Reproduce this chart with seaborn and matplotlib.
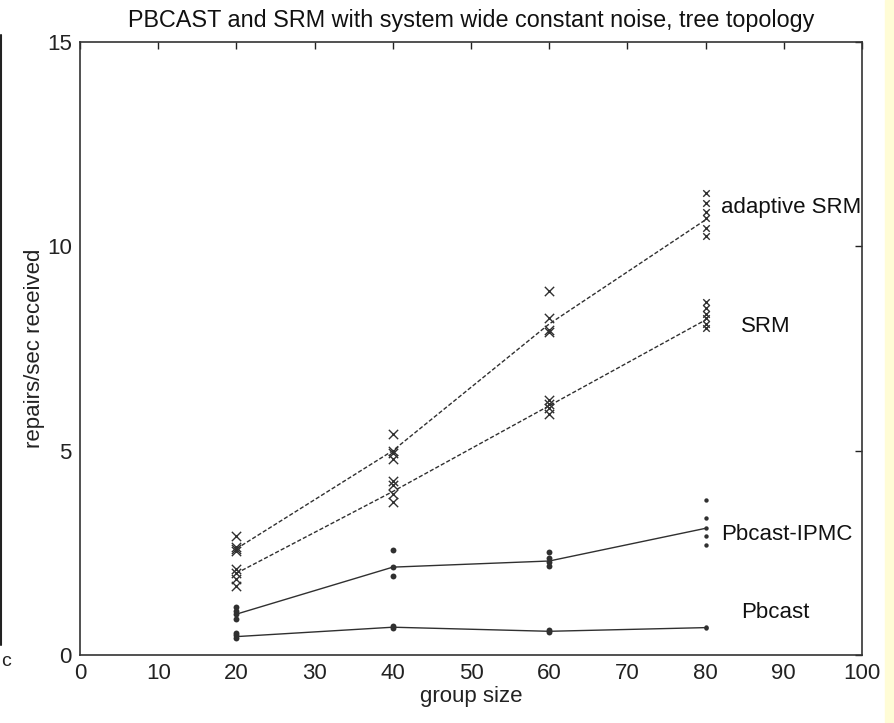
import pandas as pd
import matplotlib
matplotlib.use('Agg')
import matplotlib.pyplot as plt
import seaborn as sns

# group sizes on the x axis
groups = [20, 40, 60, 80]

# individual runs (one list per group size)
adaptive_srm_runs = [[2.9, 2.65, 2.6, 2.55],
                     [5.4, 5.0, 4.95, 4.8],
                     [8.9, 8.25, 7.95, 7.9],
                     [11.3, 11.05, 10.85, 10.7, 10.45, 10.25]]
srm_runs = [[2.1, 2.0, 1.85, 1.7],
            [4.25, 4.15, 3.95, 3.75],
            [6.25, 6.15, 6.05, 5.9],
            [8.65, 8.5, 8.35, 8.25, 8.1, 8.0]]
ipmc_runs = [[1.17, 1.08, 1.0, 0.88],
             [2.57, 2.15, 1.93],
             [2.52, 2.38, 2.27, 2.18],
             [3.8, 3.35, 3.1, 2.9, 2.7]]
pbcast_runs = [[0.55, 0.48, 0.42],
               [0.72, 0.67],
               [0.62, 0.57],
               [0.68, 0.66]]

# averaged curves
adaptive_srm_line = [2.6, 5.0, 8.1, 10.65]
srm_line = [2.0, 4.0, 6.1, 8.2]
ipmc_line = [1.0, 2.15, 2.3, 3.1]
pbcast_line = [0.45, 0.68, 0.58, 0.67]

series_names = ['adaptive SRM', 'SRM', 'Pbcast-IPMC', 'Pbcast']


def to_long(name, runs):
    rows = []
    for g, vals in zip(groups, runs):
        for v in vals:
            rows.append({'series': name, 'group': g, 'value': v})
    return rows


pts = pd.DataFrame(to_long('adaptive SRM', adaptive_srm_runs) + to_long('SRM', srm_runs)
                   + to_long('Pbcast-IPMC', ipmc_runs) + to_long('Pbcast', pbcast_runs))
lines = pd.DataFrame({'group': groups * 4,
                      'value': adaptive_srm_line + srm_line + ipmc_line + pbcast_line,
                      'series': [s for s in series_names for _ in groups]})

sns.set_style('white')
plt.rcParams['font.family'] = ['Liberation Sans', 'DejaVu Sans']

fig = plt.figure(figsize=(8.95, 7.23), dpi=100)
ax = fig.add_axes([80 / 895, 1 - 655 / 723, 782 / 895, 613 / 723])

ink = '#303030'
sns.lineplot(data=lines, x='group', y='value', hue='series', style='series',
             palette={s: ink for s in series_names},
             dashes={'adaptive SRM': (3, 1.5), 'SRM': (3, 1.5), 'Pbcast-IPMC': '', 'Pbcast': ''},
             linewidth=1.0, legend=False, ax=ax)

srm_pts = pts[pts['series'].isin(['adaptive SRM', 'SRM'])]
pb_pts = pts[pts['series'].isin(['Pbcast-IPMC', 'Pbcast'])]
# the last group was plotted with smaller markers in the original
for sub, big in [(srm_pts[srm_pts['group'] < 80], True), (srm_pts[srm_pts['group'] == 80], False)]:
    sns.scatterplot(data=sub, x='group', y='value', marker='x', s=45 if big else 22,
                    color=ink, linewidth=1.0, legend=False, ax=ax)
for sub, big in [(pb_pts[pb_pts['group'] < 80], True), (pb_pts[pb_pts['group'] == 80], False)]:
    sns.scatterplot(data=sub, x='group', y='value', marker='o', s=18 if big else 10,
                    color=ink, edgecolor=ink, linewidth=0, legend=False, ax=ax)

# series labels
lab = dict(fontsize=16, va='center', color='#111111')
ax.text(82, 10.95, 'adaptive SRM', **lab)
ax.text(84.5, 8.05, 'SRM', **lab)
ax.text(82, 2.95, 'Pbcast-IPMC', **lab)
ax.text(84.5, 1.05, 'Pbcast', **lab)

ax.set_xlim(0, 100)
ax.set_ylim(0, 15)
ax.set_xticks(range(0, 101, 10))
ax.set_yticks([0, 5, 10, 15])
ax.tick_params(direction='in', length=5, width=1, top=True, right=True,
               labelsize=16, colors='#222222', pad=6)
for sp in ax.spines.values():
    sp.set_color('#333333')
    sp.set_linewidth(1.2)

ax.set_xlabel('group size', fontsize=16, color='#222222', labelpad=1)
ax.set_ylabel('repairs/sec received', fontsize=16, color='#222222', labelpad=1)
ax.set_title('PBCAST and SRM with system wide constant noise, tree topology',
             fontsize=16.8, color='#111111', pad=11)

# slide border artefacts
fig.patches.append(plt.Rectangle((885 / 895, 0), 10 / 895, 1, transform=fig.transFigure,
                                 color='#fffcd6', zorder=0))
fig.add_artist(plt.Line2D([1.5 / 895, 1.5 / 895], [1 - 645 / 723, 1 - 35 / 723],
                          transform=fig.transFigure, color='#222222', linewidth=1.5))
fig.text(1 / 895, 1 - 662 / 723, 'c', fontsize=14, color='#222222', va='center')

fig.savefig('out.png', dpi=100)
